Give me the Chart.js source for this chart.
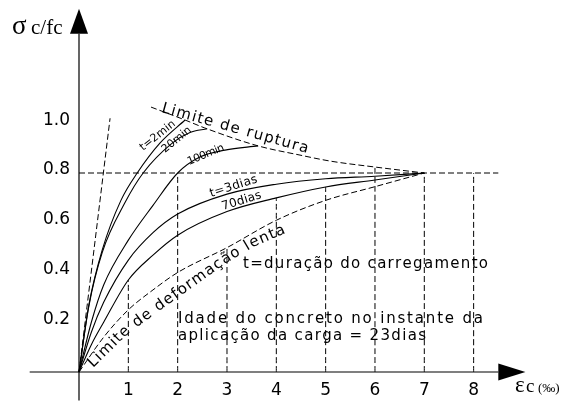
<!DOCTYPE html>
<html>
<head>
<meta charset="utf-8">
<script src="https://cdn.jsdelivr.net/npm/chart.js@4"></script>
<style>
  html, body { margin: 0; padding: 0; background: #fff; }
  #wrap { width: 568px; height: 419px; }
</style>
</head>
<body>
<div id="wrap"><canvas id="chart"></canvas></div>
<script>
// strain (per mil) and relative stress sigma_c/f_c
const strain2min = [0, 0.2, 0.47, 0.85, 1.18, 1.64, 2.15];
const stress2min = [0, 0.27, 0.49, 0.69, 0.8, 0.92, 1.013];

const strain20min = [0, 0.2, 0.47, 0.93, 1.3, 1.89, 2.25, 2.6];
const stress20min = [0, 0.265, 0.48, 0.68, 0.8, 0.92, 0.963, 0.978];

const strain100min = [0, 0.25, 0.5, 1, 1.5, 2, 2.45, 2.96, 3.63];
const stress100min = [0, 0.2, 0.35, 0.53, 0.67, 0.8, 0.864, 0.892, 0.909];

const strain3dias = [0, 0.25, 0.5, 1, 1.5, 2, 3, 4, 5, 6, 7];
const stress3dias = [0, 0.16, 0.28, 0.45, 0.56, 0.635, 0.715, 0.755, 0.777, 0.787, 0.8];

const strain70dias = [0, 0.25, 0.5, 1, 1.5, 2, 3, 4, 5, 6, 7];
const stress70dias = [0, 0.11, 0.2, 0.37, 0.47, 0.55, 0.645, 0.7, 0.744, 0.772, 0.8];

// limit curves (dashed)
const strainRupture = [1.46, 2.15, 2.55, 3.63, 4.48, 5.09, 6, 7];
const stressRupture = [1.065, 1.013, 0.981, 0.909, 0.872, 0.848, 0.824, 0.8];

const strainCreep = [0, 0.5, 1, 1.5, 2, 3, 4, 5, 6, 7];
const stressCreep = [0, 0.14, 0.25, 0.33, 0.4, 0.5, 0.61, 0.69, 0.745, 0.8];

const strainTangent = [0, 0.63];
const stressTangent = [0, 1.02];

const strainLevel = [0, 8.5];
const stressLevel = [0.8, 0.8];

// vertical guides from the axis up to the curve they meet
const guideStrain = [1, 2, 3, 4, 5, 6, 7, 8];
const guideTop = [0.37, 0.8, 0.5, 0.7, 0.744, 0.824, 0.8, 0.8];

const xTicks = [1, 2, 3, 4, 5, 6, 7, 8];
const yTicks = [0.2, 0.4, 0.6, 0.8, 1.0];
const yTickLabels = ['0.2', '0.4', '0.6', '0.8', '1.0'];

// page geometry: origin pixel and scale of the drawing
const W = 568, H = 419, X0 = 79, Y0 = 372, PX = 49.33, PY = 248.75;

function pts(xs, ys) {
  return xs.map((v, i) => ({x: v, y: ys[i]}));
}

function solid(xs, ys) {
  return {
    data: pts(xs, ys), borderColor: '#000', borderWidth: 1.1,
    pointRadius: 0, cubicInterpolationMode: 'monotone', fill: false
  };
}

function dashed(xs, ys) {
  let d = solid(xs, ys);
  d.borderDash = [6, 3];
  d.borderWidth = 1;
  return d;
}

const datasets = [
  solid(strain2min, stress2min),
  solid(strain20min, stress20min),
  solid(strain100min, stress100min),
  solid(strain3dias, stress3dias),
  solid(strain70dias, stress70dias),
  dashed(strainRupture, stressRupture),
  dashed(strainCreep, stressCreep),
  dashed(strainTangent, stressTangent),
  dashed(strainLevel, stressLevel)
];
guideStrain.forEach((g, i) => {
  datasets.push(dashed([g, g], [0, guideTop[i]]));
});

// text along a polyline, letters spread to fill its length
function textAlong(ctx, str, path) {
  const segs = [];
  let total = 0;
  for (let i = 1; i < path.length; i++) {
    const dx = path[i][0] - path[i - 1][0], dy = path[i][1] - path[i - 1][1];
    const l = Math.hypot(dx, dy);
    segs.push({x0: path[i - 1][0], y0: path[i - 1][1], dx: dx, dy: dy, l: l, s: total});
    total += l;
  }
  const chars = Array.from(str);
  const widths = chars.map(c => ctx.measureText(c).width);
  const sum = widths.reduce((a, b) => a + b, 0);
  const gap = chars.length > 1 ? (total - sum) / (chars.length - 1) : 0;
  let s = 0;
  chars.forEach((c, i) => {
    const mid = s + widths[i] / 2;
    let seg = segs[segs.length - 1];
    for (const g of segs) { if (mid <= g.s + g.l) { seg = g; break; } }
    const t = (mid - seg.s) / seg.l;
    ctx.save();
    ctx.translate(seg.x0 + seg.dx * t, seg.y0 + seg.dy * t);
    ctx.rotate(Math.atan2(seg.dy, seg.dx));
    ctx.fillText(c, -widths[i] / 2, 0);
    ctx.restore();
    s += widths[i] + gap;
  });
}

const axesAndNotes = {
  id: 'axesAndNotes',
  afterDatasetsDraw(chart) {
    const ctx = chart.ctx, x = chart.scales.x, y = chart.scales.y;
    const ox = x.getPixelForValue(0), oy = y.getPixelForValue(0);
    ctx.save();
    ctx.strokeStyle = '#000';
    ctx.fillStyle = '#000';
    ctx.lineWidth = 1.2;

    // axes with arrow heads
    const xEnd = x.getPixelForValue(8.5), yEnd = y.getPixelForValue(1.36);
    ctx.beginPath();
    ctx.moveTo(x.getPixelForValue(-1), oy); ctx.lineTo(xEnd, oy);
    ctx.moveTo(ox, y.getPixelForValue(-0.115)); ctx.lineTo(ox, yEnd);
    ctx.stroke();
    ctx.beginPath();
    ctx.moveTo(xEnd, oy - 8.5); ctx.lineTo(x.getPixelForValue(9.05), oy); ctx.lineTo(xEnd, oy + 8.5);
    ctx.closePath(); ctx.fill();
    ctx.beginPath();
    ctx.moveTo(ox - 9, yEnd); ctx.lineTo(ox, y.getPixelForValue(1.46)); ctx.lineTo(ox + 9, yEnd);
    ctx.closePath(); ctx.fill();

    // tick labels
    ctx.font = '17px "DejaVu Sans"';
    ctx.textBaseline = 'middle';
    ctx.textAlign = 'center';
    xTicks.forEach(v => ctx.fillText(String(v), x.getPixelForValue(v), oy + 19));
    ctx.textAlign = 'right';
    yTicks.forEach((v, i) => ctx.fillText(yTickLabels[i], ox - 9, y.getPixelForValue(v) - 3));

    // axis titles
    ctx.textAlign = 'left';
    ctx.textBaseline = 'alphabetic';
    ctx.font = '27px "Liberation Serif"';
    ctx.fillText('σ', 12, 34);
    ctx.font = '21px "Liberation Serif"';
    ctx.fillText('c/fc', 31, 34);
    ctx.font = '23px "Liberation Serif"';
    ctx.fillText('ε', 515, 392);
    ctx.font = '19px "Liberation Serif"';
    ctx.fillText('c', 526, 392);
    ctx.font = '13px "Liberation Serif"';
    ctx.fillText('(‰)', 538, 392);

    // curve labels
    ctx.font = '15px "DejaVu Sans"';
    textAlong(ctx, 'Limite de ruptura', [[161, 112], [307, 153]]);
    textAlong(ctx, 'Limite de deformação lenta',
      [[93, 368], [128, 334], [152, 316], [190, 289], [228, 262], [255, 246], [286, 233]]);
    textAlong(ctx, 't=duração do carregamento', [[243, 268], [488, 268]]);
    textAlong(ctx, 'Idade do concreto no instante da', [[178, 323], [483, 323]]);
    textAlong(ctx, 'aplicação da carga = 23dias', [[178, 340], [426, 340]]);

    ctx.font = '11px "DejaVu Sans"';
    textAlong(ctx, 't=2min', [[143, 151], [176, 125]]);
    textAlong(ctx, '20min', [[165, 153], [192, 131]]);
    textAlong(ctx, '100min', [[189, 165], [225, 150]]);
    ctx.font = '12px "DejaVu Sans"';
    textAlong(ctx, 't=3dias', [[211, 197], [258, 182]]);
    textAlong(ctx, '70dias', [[223, 210], [262, 198]]);
    ctx.restore();
  }
};

new Chart(document.getElementById('chart'), {
  type: 'line',
  data: {datasets: datasets},
  options: {
    responsive: true,
    maintainAspectRatio: false,
    animation: false,
    layout: {padding: 0},
    plugins: {legend: {display: false}, tooltip: {enabled: false}},
    scales: {
      x: {type: 'linear', display: false, min: -X0 / PX, max: (W - X0) / PX},
      y: {type: 'linear', display: false, min: -(H - Y0) / PY, max: Y0 / PY}
    }
  },
  plugins: [axesAndNotes]
});
</script>
</body>
</html>
